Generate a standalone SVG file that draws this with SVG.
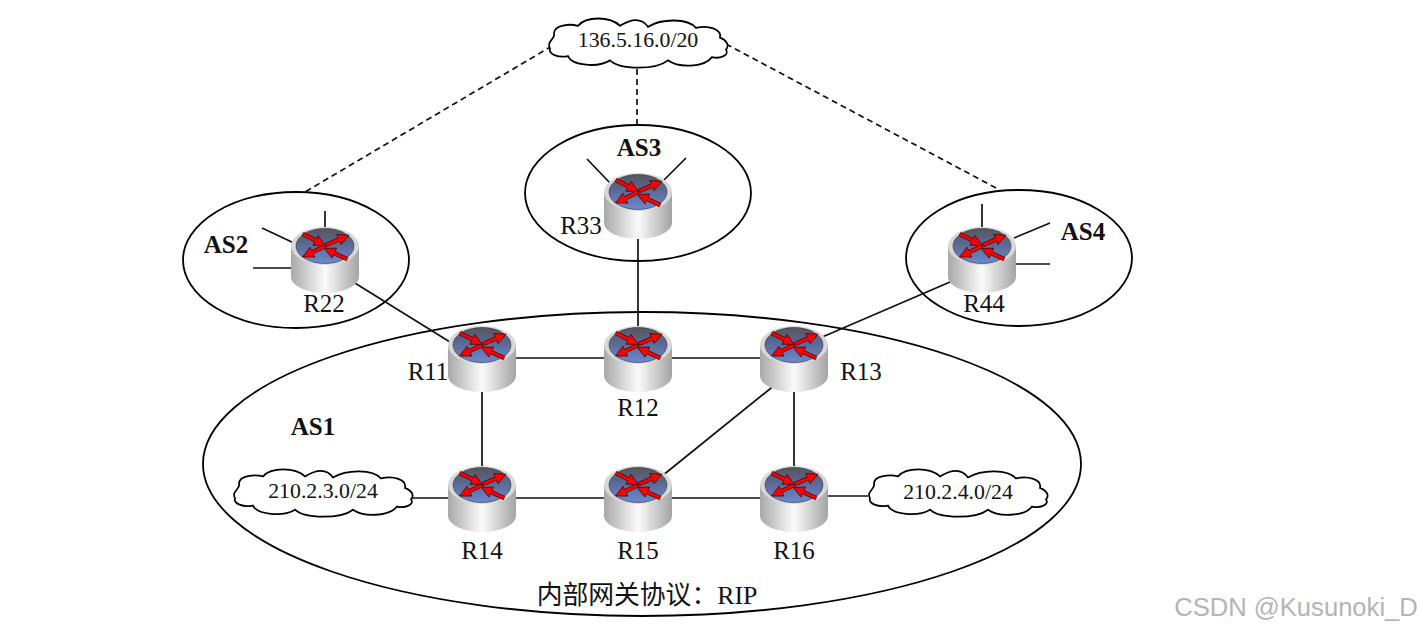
<svg xmlns="http://www.w3.org/2000/svg" width="1421" height="633" viewBox="0 0 1421 633">
<style>
.t{font-family:"Liberation Serif","Noto Sans CJK SC",serif;font-size:25px;fill:#111;text-anchor:middle}
.b{font-weight:bold}
.n{font-size:21.8px}
.l{stroke:#111;stroke-width:1.7;fill:none}
.d{stroke:#111;stroke-width:1.7;fill:none;stroke-dasharray:6 4}
.e{fill:#fff;stroke:#000;stroke-width:1.8}
.c{fill:#fff;stroke:#000;stroke-width:1.7}
</style>
<defs>
<linearGradient id="body" x1="0" x2="1" y1="0" y2="0"><stop offset="0" stop-color="#a8a8a8"/><stop offset=".5" stop-color="#fbfbfb"/><stop offset="1" stop-color="#a4a4a4"/></linearGradient>
<linearGradient id="top" x1="0" x2="0" y1="0" y2="1"><stop offset="0" stop-color="#56565c"/><stop offset=".4" stop-color="#5a6690"/><stop offset="1" stop-color="#6a8ad0"/></linearGradient>
<path id="arr" d="M0 -1.8L14 -1.8L14 -5.5L25 0L14 5.5L14 1.8L0 1.8Z" fill="#f00" stroke="#400" stroke-width=".7"/>
<g id="router">
<path d="M-34 0V31A34 16 0 0 0 34 31V0Z" fill="url(#body)"/>
<ellipse cx="0" cy="0" rx="34" ry="19" fill="#d8d8d8"/>
<ellipse cx="0" cy="0" rx="29" ry="17.5" fill="url(#top)" stroke="#333" stroke-width=".6"/>
<use href="#arr" transform="translate(1,-1) rotate(-23)"/>
<use href="#arr" transform="translate(0,0) rotate(154)"/>
<use href="#arr" transform="translate(-22,-12) rotate(27)"/>
<use href="#arr" transform="translate(22,13) rotate(205)"/>
</g>
<path id="cloud" d="M-88 6C-92 -1 -82 -3 -84 -8C-84 -16 -68 -17 -60 -15C-52 -24 -28 -24 -18 -15C-6 -22 4 -22 10 -14C24 -22 50 -22 58 -13C70 -16 84 -12 82 -4C88 -2 92 3 88 7C92 12 82 16 74 14C66 24 40 24 30 17C18 26 -18 26 -28 17C-40 24 -66 22 -70 13C-80 15 -90 11 -88 6Z" class="c"/>
</defs>

<g id="as-regions">
<ellipse id="as1" class="e" cx="642" cy="464" rx="439" ry="152"/>
<ellipse id="as2" class="e" cx="296" cy="260" rx="113" ry="68"/>
<ellipse id="as3" class="e" cx="638" cy="193" rx="113" ry="68"/>
<ellipse id="as4" class="e" cx="1019" cy="258" rx="113" ry="68"/>
</g>

<g id="connectors">
<path class="d" d="M552 46L305 192"/>
<path class="d" d="M637 69V125"/>
<path class="d" d="M726 44L998 189"/>
<path class="l" d="M350 280L450 342"/>
<path class="l" d="M638 236V326"/>
<path class="l" d="M950 282L820 338"/>
<path class="l" d="M514 358H606"/>
<path class="l" d="M670 358H762"/>
<path class="l" d="M482 392V466"/>
<path class="l" d="M794 392V466"/>
<path class="l" d="M776 384L662 476"/>
<path class="l" d="M514 498H606"/>
<path class="l" d="M670 498H762"/>
<path class="l" d="M412 498H449"/>
<path class="l" d="M826 496H868"/>
<path class="l" d="M262 228L294 243"/>
<path class="l" d="M325 211V227"/>
<path class="l" d="M253 268H292"/>
<path class="l" d="M587 159L610 183"/>
<path class="l" d="M686 158L664 180"/>
<path class="l" d="M982 204V230"/>
<path class="l" d="M1050 223L1014 238"/>
<path class="l" d="M1016 264H1050"/>
</g>

<g id="R11"><use href="#router" x="482" y="345"/><text class="t" x="428" y="380">R11</text></g>
<g id="R12"><use href="#router" x="638" y="345"/><text class="t" x="638" y="416">R12</text></g>
<g id="R13"><use href="#router" x="794" y="345"/><text class="t" x="861" y="380">R13</text></g>
<g id="R14"><use href="#router" x="482" y="485"/><text class="t" x="482" y="559">R14</text></g>
<g id="R15"><use href="#router" x="638" y="485"/><text class="t" x="638" y="559">R15</text></g>
<g id="R16"><use href="#router" x="794" y="485"/><text class="t" x="794" y="559">R16</text></g>
<g id="R22"><use href="#router" x="325" y="246"/><text class="t" x="324" y="312">R22</text></g>
<g id="R33"><use href="#router" x="638" y="192"/><text class="t" x="581" y="234">R33</text></g>
<g id="R44"><use href="#router" x="982" y="246"/><text class="t" x="984" y="312">R44</text></g>

<g id="net-136"><use href="#cloud" transform="translate(638,42) scale(1,1.08)"/><text class="t n" x="638" y="47">136.5.16.0/20</text></g>
<g id="net-210-3"><use href="#cloud" transform="translate(323,492) scale(1,1.04)"/><text class="t n" x="323" y="498">210.2.3.0/24</text></g>
<g id="net-210-4"><use href="#cloud" transform="translate(958,492) scale(1,1.04)"/><text class="t n" x="958" y="499">210.2.4.0/24</text></g>

<g id="labels">
<text class="t b" x="226" y="253">AS2</text>
<text class="t b" x="639" y="156">AS3</text>
<text class="t b" x="1083" y="240">AS4</text>
<text class="t b" x="313" y="435">AS1</text>
<text class="t" x="647" y="604" style="font-size:25.8px">内部网关协议：RIP</text>
<text x="1296" y="616" style="font-family:'Liberation Sans',sans-serif;font-size:25.6px;fill:#b4b4b4;text-anchor:middle">CSDN @Kusunoki_D</text>
</g>
</svg>
